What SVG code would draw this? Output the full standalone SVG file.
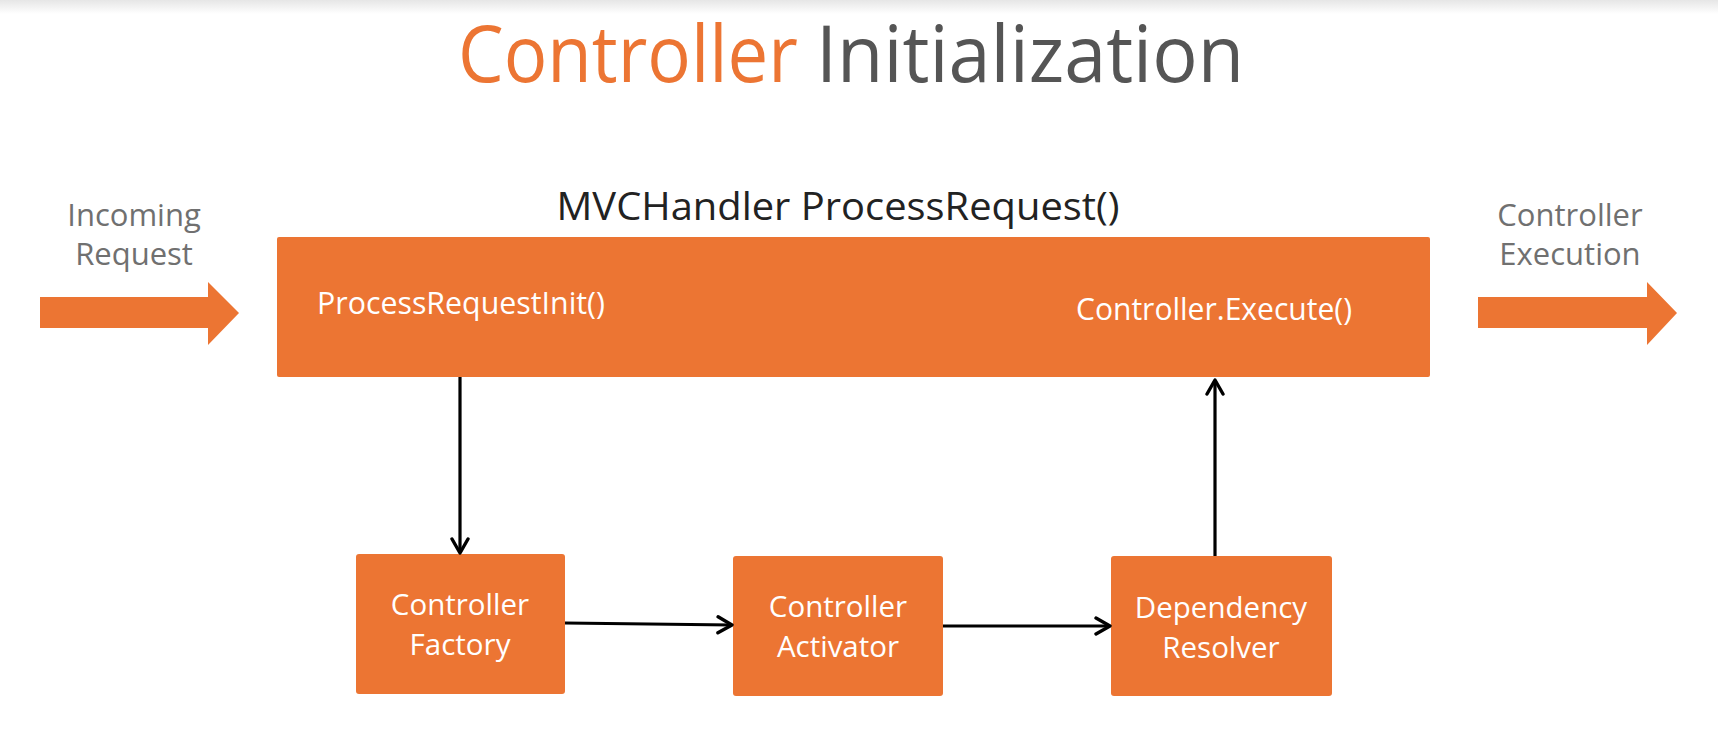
<svg xmlns="http://www.w3.org/2000/svg" width="1718" height="754" viewBox="0 0 1718 754">
<defs>
<linearGradient id="topfade" x1="0" y1="0" x2="0" y2="1">
<stop offset="0" stop-color="#e6e6e6"/>
<stop offset="1" stop-color="#ffffff"/>
</linearGradient>
<marker id="chev" viewBox="0 0 20 20" refX="17" refY="10" markerWidth="20" markerHeight="20" markerUnits="userSpaceOnUse" orient="auto">
<path d="M3,2 L17,10 L3,18" fill="none" stroke="#000" stroke-width="3.4" stroke-linecap="round" stroke-linejoin="round"/>
</marker>
<style>
.box{fill:#EC7533;}
.wt{fill:#ffffff;font-family:"Open Sans","Liberation Sans",sans-serif;}
.gt{fill:#707070;font-family:"Open Sans","Liberation Sans",sans-serif;font-size:31px;text-anchor:middle;}
.bt{font-size:29.5px;text-anchor:middle;}
.conn{fill:none;stroke:#000;stroke-width:3.2;marker-end:url(#chev);}
</style>
</defs>
<rect width="1718" height="754" fill="#ffffff"/>
<rect width="1718" height="14" fill="url(#topfade)"/>

<g id="title">
<text x="458" y="82" font-family="'Open Sans','Liberation Sans',sans-serif" font-size="79" fill="#EC7533" textLength="340" lengthAdjust="spacingAndGlyphs">Controller</text>
<text x="816" y="82" font-family="'Open Sans','Liberation Sans',sans-serif" font-size="79" fill="#555555" textLength="428" lengthAdjust="spacingAndGlyphs">Initialization</text>
</g>

<g id="incoming">
<path class="box" d="M40,297 H208 V282 L239,313 L208,345 V328 H40 Z"/>
<text class="gt" x="134" y="226">Incoming</text>
<text class="gt" x="134" y="265">Request</text>
</g>

<g id="execution">
<path class="box" d="M1478,297 H1647 V282 L1677,313 L1647,345 V328 H1478 Z"/>
<text class="gt" x="1570" y="226">Controller</text>
<text class="gt" x="1570" y="265">Execution</text>
</g>

<g id="mvchandler">
<text x="838" y="220" font-family="'Open Sans','Liberation Sans',sans-serif" font-size="38" fill="#222222" text-anchor="middle" textLength="563" lengthAdjust="spacingAndGlyphs">MVCHandler ProcessRequest()</text>
<rect class="box" x="277" y="237" width="1153" height="140" rx="2"/>
<text class="wt" x="317" y="314" font-size="31" textLength="288" lengthAdjust="spacingAndGlyphs">ProcessRequestInit()</text>
<text class="wt" x="1076" y="320" font-size="30.5" textLength="276" lengthAdjust="spacingAndGlyphs">Controller.Execute()</text>
</g>

<g id="factory">
<rect class="box" x="356" y="554" width="209" height="140" rx="3"/>
<text class="wt bt" x="460" y="615">Controller</text>
<text class="wt bt" x="460" y="655">Factory</text>
</g>

<g id="activator">
<rect class="box" x="733" y="556" width="210" height="140" rx="3"/>
<text class="wt bt" x="838" y="617">Controller</text>
<text class="wt bt" x="838" y="657">Activator</text>
</g>

<g id="resolver">
<rect class="box" x="1111" y="556" width="221" height="140" rx="3"/>
<text class="wt bt" x="1221" y="618">Dependency</text>
<text class="wt bt" x="1221" y="658">Resolver</text>
</g>

<g id="connectors">
<path class="conn" d="M460,377 V553"/>
<path class="conn" d="M565,623 L732,625"/>
<path class="conn" d="M943,626 H1110"/>
<path class="conn" d="M1215,556 V380"/>
</g>
</svg>
